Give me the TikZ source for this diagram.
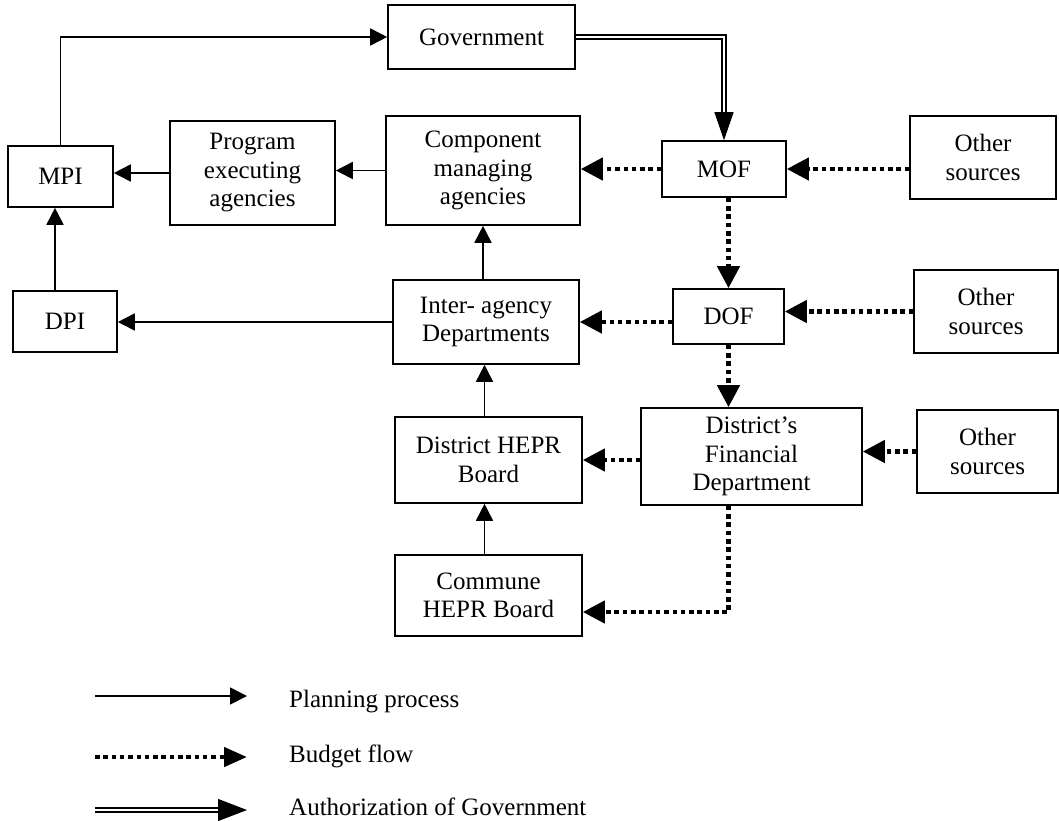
\documentclass[tikz,border=0pt]{standalone}
\usepackage{fontspec}
\setmainfont{Liberation Serif}
\usetikzlibrary{arrows.meta,calc}
\begin{document}
\begin{tikzpicture}[x=1pt,y=-1pt,
  box/.style={draw, line width=1.6pt, inner sep=0pt, align=center, font=\fontsize{25}{28.5}\selectfont},
  plan/.style={line width=1.7pt, -{Triangle[length=17pt,width=17pt]}},
  budget/.style={line width=4.5pt, dash pattern=on 4.5pt off 3.8pt, -{Triangle[length=22pt,width=22pt]}},
  auth/.style={draw, line width=1.4pt, double=white, double distance=2.5pt},
  authtip/.style={line width=1pt, -{Triangle[length=28pt,width=19pt]}},
  legtext/.style={anchor=west, inner sep=0pt, font=\fontsize{25}{28.5}\selectfont}]
\useasboundingbox (0,0) rectangle (1059,820);

% boxes
\node[box, minimum width=187pt, minimum height=64pt]  (gov)     at (481.5,37)   {Government};
\node[box, minimum width=105pt, minimum height=61pt]  (mpi)     at (60.5,176.5) {MPI};
\node[box, minimum width=165pt, minimum height=104pt] (prog)    at (252.5,173)  {Program\\executing\\agencies};
\node[box, minimum width=194pt, minimum height=109pt] (comp)    at (483,170.5)  {Component\\managing\\agencies};
\node[box, minimum width=124pt, minimum height=56pt]  (mof)     at (724,169)    {MOF};
\node[box, minimum width=146pt, minimum height=83pt]  (other1)  at (983,157.5)  {Other\\sources};
\node[box, minimum width=104pt, minimum height=61pt]  (dpi)     at (65,321.5)   {DPI};
\node[box, minimum width=186pt, minimum height=84pt]  (inter)   at (486,322)    {Inter- agency\\Departments};
\node[box, minimum width=111pt, minimum height=55pt]  (dof)     at (728.5,316.5){DOF};
\node[box, minimum width=144pt, minimum height=83pt]  (other2)  at (986,311.5)  {Other\\sources};
\node[box, minimum width=187pt, minimum height=86pt]  (dhepr)   at (488.5,460)  {District HEPR\\Board};
\node[box, minimum width=221pt, minimum height=97pt]  (dfin)    at (751.5,456.5){District’s\\Financial\\Department};
\node[box, minimum width=141pt, minimum height=83pt]  (other3)  at (987.5,451.5){Other\\sources};
\node[box, minimum width=187pt, minimum height=81pt]  (commune) at (488.5,595.5){Commune\\HEPR Board};

% planning process
\draw[plan] (mpi.north) |- (gov.west);
\draw[plan] (prog.west) -- (prog.west -| mpi.east);
\draw[plan] (comp.west) -- (comp.west -| prog.east);
\draw[plan] ([xshift=-10pt]dpi.north) -- ([xshift=-10pt]dpi.north |- mpi.south);
\draw[plan] (inter.west) -- (inter.west -| dpi.east);
\draw[plan] (inter.north -| comp.south) -- (comp.south);
\draw[plan] ([xshift=-4pt]dhepr.north) -- ([xshift=-4pt]dhepr.north |- inter.south);
\draw[plan] ([xshift=-4pt]commune.north) -- ([xshift=-4pt]dhepr.south);

% authorization
\coordinate (authstart) at ($(mof.north)+(0,-28)$);
\draw[auth] (gov.east) -| (authstart);
\draw[authtip] (authstart) -- (mof.north);

% budget flow
\draw[budget] (mof.west) -- (mof.west -| comp.east);
\draw[budget] (other1.west |- mof.east) -- (mof.east);
\draw[budget] (mof.south -| dof.north) -- (dof.north);
\draw[budget] (dof.west |- inter.east) -- (inter.east);
\draw[budget] (other2.west) -- (other2.west -| dof.east);
\draw[budget] (dof.south) -- (dof.south |- dfin.north);
\draw[budget] (other3.west) -- (other3.west -| dfin.east);
\draw[budget] (dfin.west |- dhepr.east) -- (dhepr.east);
\draw[budget] (dfin.south -| dof.south) |- ([yshift=-16.5pt]commune.east);

% legend
\coordinate (l1a) at (95,696);
\coordinate (l1b) at (247,696);
\draw[plan] (l1a) -- (l1b);
\node[legtext] (lt1) at (289,702) {Planning process};
\coordinate (l2a) at (95,757);
\coordinate (l2b) at (247,757);
\draw[budget, -{Triangle[length=23pt,width=19pt]}] (l2a) -- (l2b);
\node[legtext] (lt2) at (289,756) {Budget flow};
\coordinate (l3a) at (95,810);
\coordinate (l3m) at (218,810);
\coordinate (l3b) at (247,810);
\draw[auth] (l3a) -- (l3m);
\draw[authtip, -{Triangle[length=29pt,width=22pt]}] (l3m) -- (l3b);
\node[legtext] (lt3) at (289,807) {Authorization of Government};
\end{tikzpicture}
\end{document}
